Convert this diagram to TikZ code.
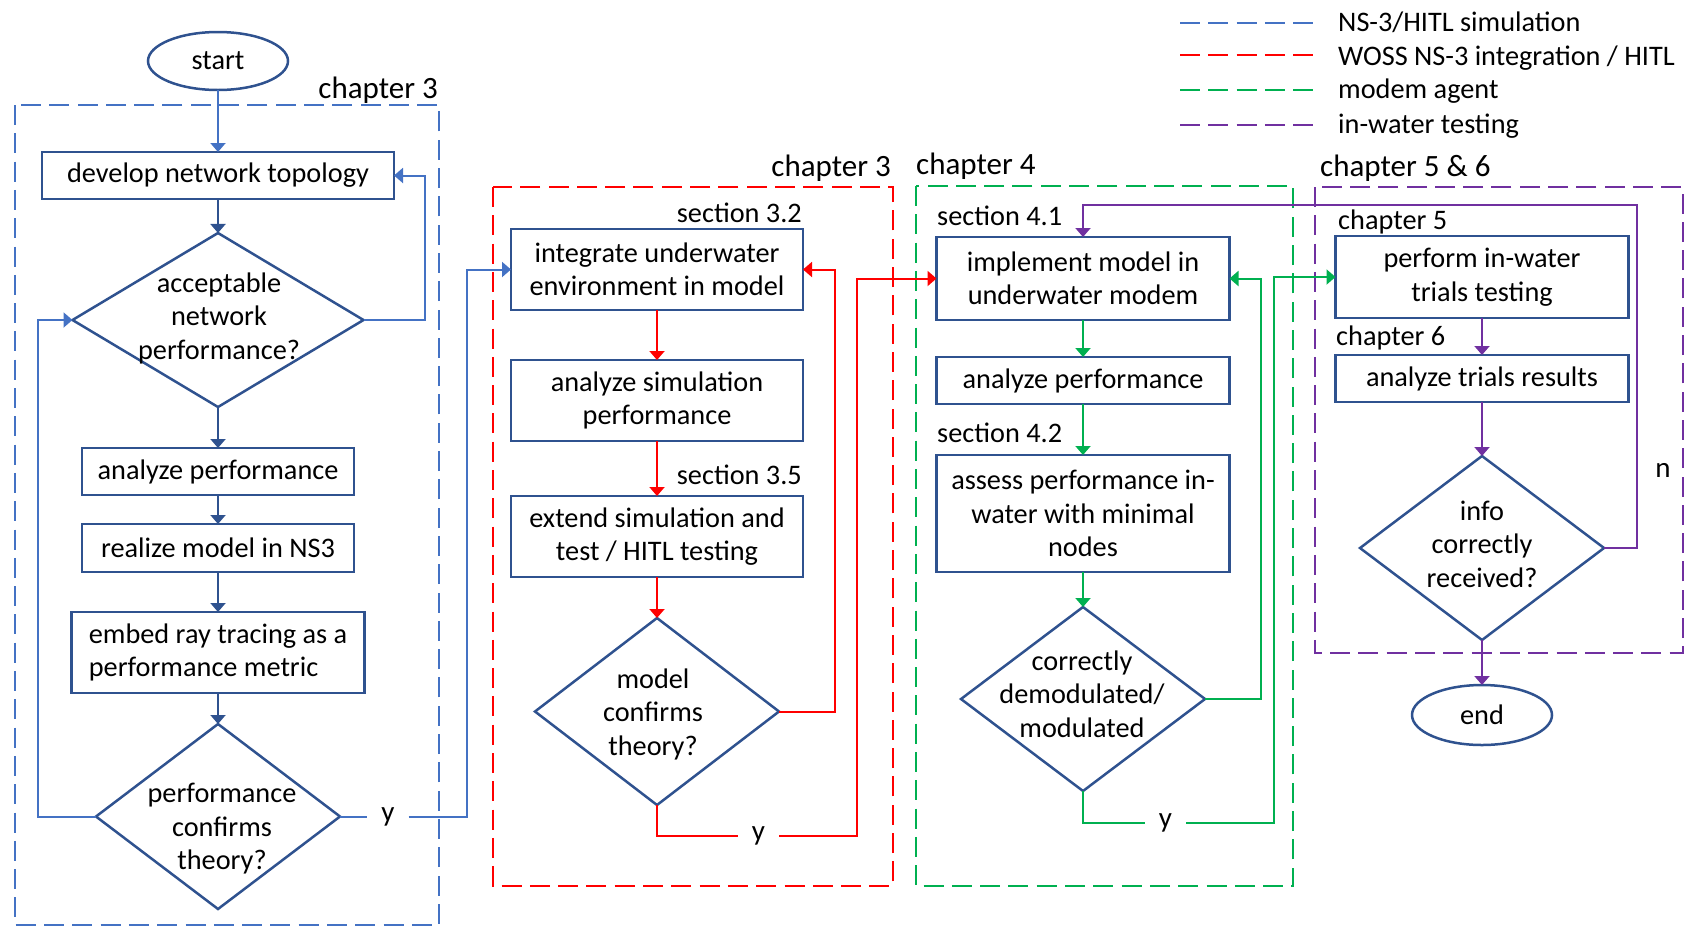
\documentclass[tikz,border=0pt]{standalone}
\usepackage{fontspec}
\setmainfont{Carlito}
\usetikzlibrary{shapes.geometric,arrows.meta}
\definecolor{boxc}{HTML}{2F528F}
\definecolor{lblue}{HTML}{4472C4}
\definecolor{dblue}{HTML}{2F528F}
\definecolor{cred}{HTML}{FF0000}
\definecolor{cgreen}{HTML}{00B050}
\definecolor{cpurple}{HTML}{7030A0}
\begin{document}
\begin{tikzpicture}[x=1pt,y=-1pt,
  fnt/.style={font=\fontsize{28.3}{33.5}\selectfont},
  stepbox/.style={fnt, draw=boxc, line width=2.5pt, rectangle, inner sep=0pt, outer sep=0pt, align=center},
  decision/.style={draw=boxc, line width=2.5pt, diamond, inner sep=0pt, outer sep=0pt},
  terminal/.style={fnt, draw=boxc, line width=2.5pt, ellipse, inner sep=0pt, outer sep=0pt},
  dtext/.style={fnt, align=center, inner sep=0pt},
  lbl/.style={fnt, inner sep=0pt},
  chap/.style={font=\fontsize{31}{37}\selectfont, inner sep=0pt},
  frame/.style={line width=2.5pt, dash pattern=on 20pt off 8.3pt},
  conn/.style={line width=2pt, -{Triangle[length=9pt,width=15pt]}},
  wire/.style={line width=2pt},
  yn/.style={font=\fontsize{29}{34}\selectfont, inner sep=0pt, minimum width=41pt, minimum height=20pt},
]
\useasboundingbox (0,0) rectangle (1691,927);

% chapter frames
\draw[frame, lblue] (15,105) rectangle (439,925);
\draw[frame, cred] (493,187) rectangle (893,886);
\draw[frame, cgreen] (916,186) rectangle (1293,886);
\draw[frame, cpurple] (1315,187) rectangle (1683,653);

% frame headings and section tags
\node[chap, anchor=base east] (h1) at (438,98) {chapter 3};
\node[chap, anchor=base east] (h2) at (891,176) {chapter 3};
\node[chap, anchor=base west] (h3) at (916,174) {chapter 4};
\node[chap, anchor=base west] (h4) at (1320,176) {chapter 5 \& 6};
\node[lbl, anchor=base east] (s32) at (802,222) {section 3.2};
\node[lbl, anchor=base east] (s35) at (802,484) {section 3.5};
\node[lbl, anchor=base west] (s41) at (937,225) {section 4.1};
\node[lbl, anchor=base west] (s42) at (937,442) {section 4.2};
\node[lbl, anchor=base west] (c5) at (1338,229) {chapter 5};
\node[lbl, anchor=base west] (c6) at (1336,345) {chapter 6};

% legend
\coordinate (lg1a) at (1180,23);  \coordinate (lg1b) at (1313,23);
\coordinate (lg2a) at (1180,55);  \coordinate (lg2b) at (1313,55);
\coordinate (lg3a) at (1180,90);  \coordinate (lg3b) at (1313,90);
\coordinate (lg4a) at (1180,125); \coordinate (lg4b) at (1313,125);
\draw[frame, lblue] (lg1a) -- (lg1b);
\draw[frame, cred] (lg2a) -- (lg2b);
\draw[frame, cgreen] (lg3a) -- (lg3b);
\draw[frame, cpurple] (lg4a) -- (lg4b);
\node[lbl, anchor=base west] (lg1) at (1338,31) {NS-3/HITL simulation};
\node[lbl, anchor=base west] (lg2) at (1338,65) {WOSS NS-3 integration / HITL};
\node[lbl, anchor=base west] (lg3) at (1338,98) {modem agent};
\node[lbl, anchor=base west] (lg4) at (1338,133) {in-water testing};

% NS-3 simulation column
\node[terminal, minimum width=140pt, minimum height=58pt] (start) at (218,61) {start};
\node[stepbox, minimum width=352pt, minimum height=47pt] (dev) at (218,175.5) {\raisebox{-2pt}{develop network topology}};
\node[decision, minimum width=291pt, minimum height=174pt] (d1) at (218,320) {};
\node[dtext] (d1t) at (219,318) {acceptable\\network\\performance?};
\node[stepbox, minimum width=272pt, minimum height=47pt] (anp) at (218,471.5) {\raisebox{-2pt}{analyze performance}};
\node[stepbox, minimum width=272pt, minimum height=48pt] (ns3) at (218,548) {\raisebox{-2pt}{realize model in NS3}};
\node[stepbox, minimum width=293pt, minimum height=81pt, align=left] (ray) at (218,652.5) {embed ray tracing as a\\performance metric};
\node[decision, minimum width=244pt, minimum height=185pt] (d2) at (218,816.5) {};
\node[dtext] (d2t) at (222,829) {performance\\confirms\\theory?};
\node[yn] (yb) at (388,816.5) {y};

% WOSS integration column
\node[stepbox, minimum width=292pt, minimum height=81pt] (integ) at (657,269.5) {integrate underwater\\environment in model};
\node[stepbox, minimum width=292pt, minimum height=81pt] (asim) at (657,400.5) {analyze simulation\\performance};
\node[stepbox, minimum width=292pt, minimum height=81pt] (ext) at (657,536.5) {extend simulation and\\test / HITL testing};
\node[decision, minimum width=244pt, minimum height=187pt] (d3) at (657,711.5) {};
\node[dtext] (d3t) at (653,714) {model\\confirms\\theory?};
\node[yn] (yr) at (758.5,836) {y};

% modem agent column
\node[stepbox, minimum width=293pt, minimum height=83pt] (impl) at (1083,278.5) {implement model in\\underwater modem};
\node[stepbox, minimum width=293pt, minimum height=47pt] (aperf) at (1083,380.5) {\raisebox{-2pt}{analyze performance}};
\node[stepbox, minimum width=293pt, minimum height=117pt] (assess) at (1083,513.5) {assess performance in-\\water with minimal\\nodes};
\node[decision, minimum width=244pt, minimum height=184pt] (d4) at (1083,699) {};
\node[dtext] (d4t) at (1082,694) {correctly\\demodulated/\\modulated};
\node[yn] (yg) at (1165.5,823) {y};

% in-water testing column
\node[stepbox, minimum width=293pt, minimum height=82pt] (perf) at (1482,277) {perform in-water\\trials testing};
\node[stepbox, minimum width=293pt, minimum height=47pt] (trials) at (1482,378.5) {\raisebox{-2pt}{analyze trials results}};
\node[decision, minimum width=244pt, minimum height=184pt] (d5) at (1482,548) {};
\node[dtext] (d5t) at (1482,544) {info\\correctly\\received?};
\node[terminal, minimum width=140pt, minimum height=60pt] (end) at (1482,715) {end};
\node[yn] (nl) at (1663,470) {n};
\coordinate (ploop) at (1637,205);

% connectors: simulation
\draw[conn, lblue] (start) -- (dev);
\draw[conn, dblue] (dev) -- (d1);
\draw[conn, lblue] (d1.east) -| ([xshift=31pt]dev.east) -- (dev.east);
\draw[conn, dblue] (d1) -- (anp);
\draw[conn, dblue] (anp) -- (ns3);
\draw[conn, dblue] (ns3) -- (ray);
\draw[conn, dblue] (ray) -- (d2);
\draw[conn, lblue] (d2.west) -| ([xshift=-34.5pt]d1.west) -- (d1.west);
\draw[wire, lblue] (d2.east) -- (yb.west);
\draw[conn, lblue] (yb.east) -| ([xshift=-44pt]integ.west) -- (integ.west);

% connectors: integration
\draw[conn, cred] (integ) -- (asim);
\draw[conn, cred] (asim) -- (ext);
\draw[conn, cred] (ext) -- (d3);
\draw[conn, cred] (d3.east) -| ([xshift=32pt]integ.east) -- (integ.east);
\draw[wire, cred] (d3.south) |- (yr.west);
\draw[conn, cred] (yr.east) -| ([xshift=-79.5pt]impl.west) -- (impl.west);

% connectors: modem agent
\draw[conn, cgreen] (impl) -- (aperf);
\draw[conn, cgreen] (aperf) -- (assess);
\draw[conn, cgreen] (assess) -- (d4);
\draw[conn, cgreen] (d4.east) -| ([xshift=31.5pt]impl.east) -- (impl.east);
\draw[wire, cgreen] (d4.south) |- (yg.west);
\draw[conn, cgreen] (yg.east) -| ([xshift=-61.5pt]perf.west) -- (perf.west);

% connectors: in-water testing
\draw[conn, cpurple] (perf) -- (trials);
\draw[conn, cpurple] (trials) -- (d5);
\draw[conn, cpurple] (d5.east) -| (ploop) -| (impl.north);
\draw[conn, cpurple] (d5) -- (end);
\end{tikzpicture}
\end{document}
